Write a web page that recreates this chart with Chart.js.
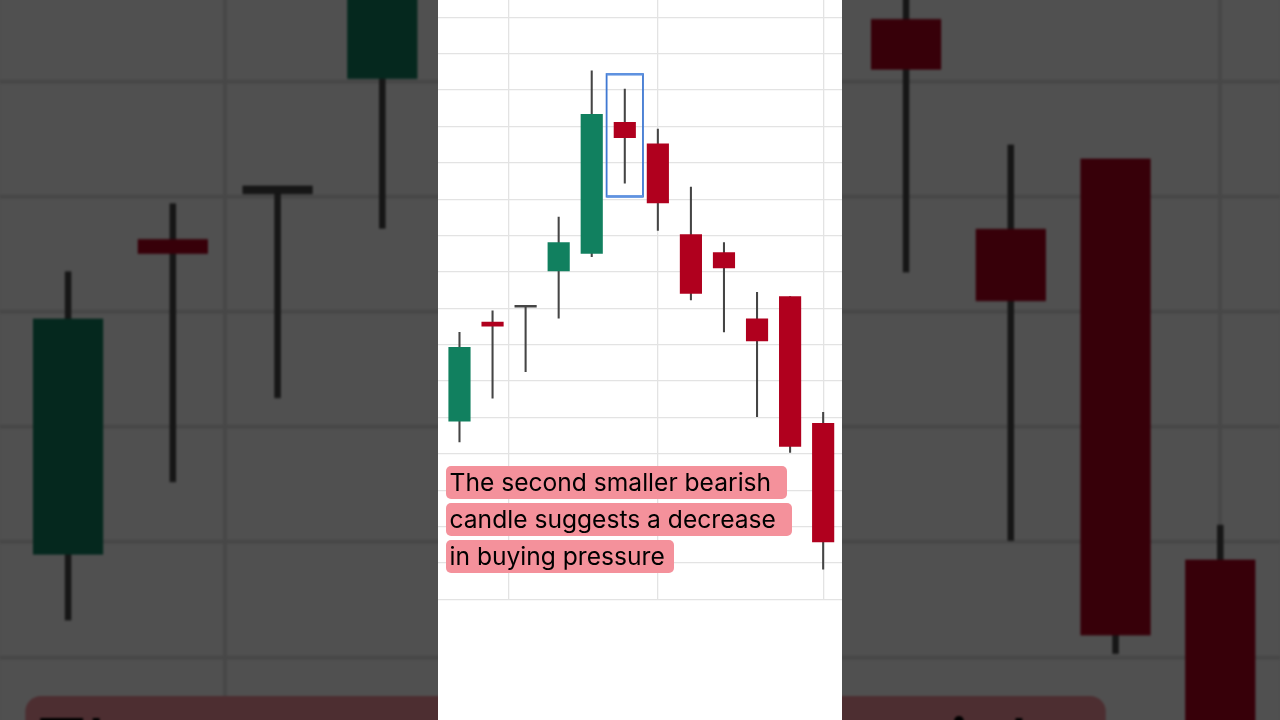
<!DOCTYPE html>
<html>
<head>
<meta charset="utf-8">
<script src="https://cdn.jsdelivr.net/npm/chart.js@4.4.1/dist/chart.umd.min.js"></script>
<style>
html, body { margin: 0; padding: 0; width: 1280px; height: 720px; overflow: hidden; background: #505050; }
.frame { position: absolute; top: 0; width: 404px; height: 720px; background: #fff; overflow: hidden; }
#back { left: 0; transform-origin: 0 0; transform: translate(0px, -780.5px) scale(3.1683); filter: brightness(0.314) blur(0.4px); }
#front { left: 438px; }
.frame canvas { position: absolute; left: 0; top: 0; }
.caption { position: absolute; left: 8px; top: 466px; font-family: Inter, "Noto Sans", sans-serif; font-size: 24.6px; color: #000; }
.caption div { width: fit-content; height: 32.7px; line-height: 32.7px; margin-bottom: 4.4px; padding: 0 9px 0 3.5px; background: #f4919b; border-radius: 5px; white-space: pre; }
</style>
</head>
<body>
<div id="back" class="frame" aria-hidden="true">
  <canvas id="chartBack" width="404" height="720"></canvas>
  <div class="caption"><div>The second smaller bearish </div><div>candle suggests a decrease </div><div>in buying pressure</div></div>
</div>
<div id="front" class="frame">
  <canvas id="chartFront" width="404" height="720"></canvas>
  <div class="caption"><div>The second smaller bearish </div><div>candle suggests a decrease </div><div>in buying pressure</div></div>
</div>
<script>
// candle data (index on x, price on y)
var candleIdx = [0, 1, 2, 3, 4, 5, 6, 7, 8, 9, 10, 11];
var openP  = [104.90, 107.62, 108.03, 109.03, 109.51, 113.11, 112.52, 110.03, 109.53, 107.71, 108.32, 104.84];
var closeP = [106.93, 107.51, 108.03, 109.81, 113.33, 112.69, 110.90, 108.41, 109.11, 107.10, 104.20, 101.58];
var highP  = [107.34, 107.93, 108.03, 110.51, 114.53, 114.03, 112.93, 111.33, 109.81, 108.44, 108.32, 105.14];
var lowP   = [104.33, 105.53, 106.26, 107.73, 109.42, 111.44, 110.14, 108.23, 107.35, 105.02, 104.04, 100.83];

var yTicks = [100, 101, 102, 103, 104, 105, 106, 107, 108, 109, 110, 111, 112, 113, 114, 115, 116];
var xGrid = [1.5, 6, 11];
var highlightIdx = 5;

var upColor = '#11805f';
var downColor = '#b0001e';
var wickColor = '#454545';

var bodyColors = candleIdx.map(function (i) {
    if (closeP[i] > openP[i]) return upColor;
    if (closeP[i] < openP[i]) return downColor;
    return wickColor;
});

// blue box round the highlighted candle
var highlightBox = {
    id: 'highlightBox',
    afterDatasetsDraw(chart) {
        var x = chart.scales.x, y = chart.scales.y, ctx = chart.ctx;
        var left = x.getPixelForValue(highlightIdx - 0.55);
        var right = x.getPixelForValue(highlightIdx + 0.55);
        var top = y.getPixelForValue(highP[highlightIdx] + 0.41);
        var bottom = y.getPixelForValue(lowP[highlightIdx] - 0.37);
        ctx.save();
        ctx.strokeStyle = '#3f78d2';
        ctx.lineWidth = 1.8;
        ctx.strokeRect(left, top, right - left, bottom - top);
        ctx.fillStyle = '#5f92e0';
        ctx.fillRect(left, top - 1, right - left, 2.5);
        ctx.fillRect(left, bottom - 1.5, right - left, 2.5);
        ctx.restore();
    }
};

function makeChart(id, dpr) {
    var ctx = document.getElementById(id).getContext('2d');
    return new Chart(ctx, {
        type: 'bar',
        data: {
            datasets: [
                {
                    label: 'wick',
                    data: candleIdx.map(function (i) { return { x: i, y: [lowP[i], highP[i]] }; }),
                    backgroundColor: wickColor,
                    barThickness: 1.4,
                    grouped: false,
                    order: 2
                },
                {
                    label: 'body',
                    data: candleIdx.map(function (i) { return { x: i, y: [openP[i], closeP[i]] }; }),
                    backgroundColor: bodyColors,
                    barThickness: 21.5,
                    minBarLength: 2,
                    grouped: false,
                    order: 1
                }
            ]
        },
        options: {
            responsive: false,
            animation: false,
            devicePixelRatio: dpr,
            layout: { padding: { left: 0, right: 0, top: 0, bottom: 120.7 } },
            plugins: {
                legend: { display: false },
                tooltip: { enabled: false }
            },
            scales: {
                x: {
                    type: 'linear',
                    offset: false,
                    min: -0.65,
                    max: 11.57,
                    afterBuildTicks: function (s) { s.ticks = xGrid.map(function (v) { return { value: v }; }); },
                    ticks: { display: false },
                    grid: { color: '#e3e3e3', lineWidth: 1.3, drawTicks: false, offset: false },
                    border: { display: false }
                },
                y: {
                    min: 100,
                    max: 116.476,
                    afterBuildTicks: function (s) { s.ticks = yTicks.map(function (v) { return { value: v }; }); },
                    ticks: { display: false },
                    grid: { color: '#e3e3e3', lineWidth: 1.3, drawTicks: false },
                    border: { display: false }
                }
            }
        },
        plugins: [highlightBox]
    });
}

makeChart('chartFront', 1);
makeChart('chartBack', 3.1683);
</script>
</body>
</html>
